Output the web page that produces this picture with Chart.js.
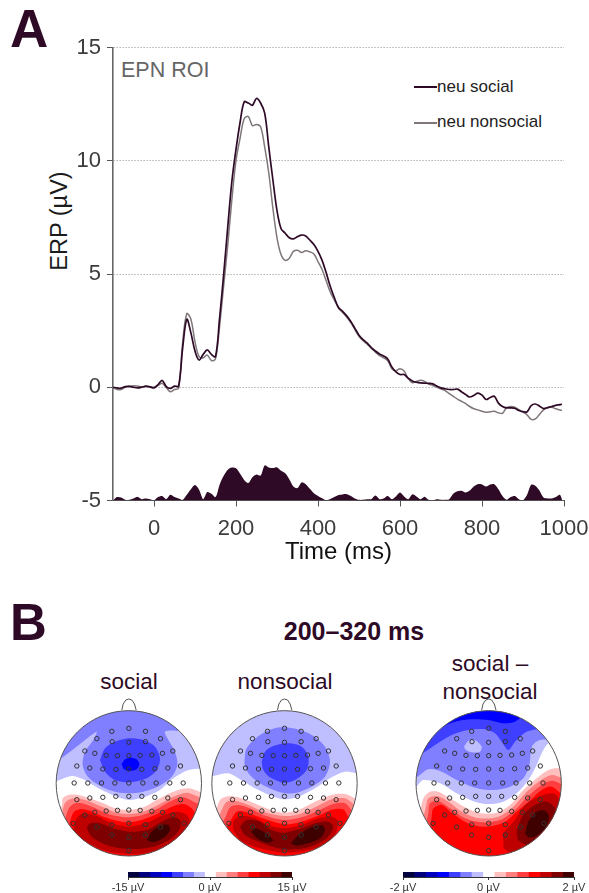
<!DOCTYPE html>
<html>
<head>
<meta charset="utf-8">
<script src="https://cdn.jsdelivr.net/npm/chart.js@4"></script>
<style>
  html, body { margin: 0; padding: 0; background: #fff; }
  body { width: 589px; height: 893px; position: relative; overflow: hidden; font-family: "Liberation Sans", Arial, sans-serif; }
  canvas { position: absolute; }
  .txt { position: absolute; white-space: nowrap; line-height: 1; color: #2e0a26; }
  .mid { transform: translate(-50%, -50%); }
  .key { position: absolute; height: 2px; width: 23px; left: 414px; }
</style>
</head>
<body>

<div class="txt" style="left:10px;top:2px;font-size:53px;font-weight:bold">A</div>
<div class="txt" style="left:10px;top:597px;font-size:51px;font-weight:bold">B</div>
<div class="txt" style="left:121px;top:60px;font-size:21.5px;color:#666">EPN ROI</div>
<div class="txt mid" style="left:60px;top:221px;font-size:23.5px;color:#1c1c1c;transform:translate(-50%,-50%) rotate(-90deg)">ERP (µV)</div>
<div class="txt" id="lab0" style="left:437px;top:78px;font-size:17px;color:#222"></div>
<div class="txt" id="lab1" style="left:437px;top:113px;font-size:17px;color:#222"></div>
<div class="key" id="key0" style="top:86px"></div>
<div class="key" id="key1" style="top:122px"></div>
<div class="txt mid" style="left:354px;top:631px;font-size:25px;font-weight:bold">200–320 ms</div>
<div class="txt mid" style="left:129px;top:682px;font-size:22.5px">social</div>
<div class="txt mid" style="left:285px;top:682px;font-size:22.5px">nonsocial</div>
<div class="txt mid" style="left:490px;top:664px;font-size:22.5px">social –</div>
<div class="txt mid" style="left:490px;top:692px;font-size:22.5px">nonsocial</div>

<canvas id="erp" width="589" height="590" style="left:0;top:0"></canvas>
<canvas id="headA" width="170" height="170" style="left:40px;top:690px"></canvas>
<canvas id="headB" width="170" height="170" style="left:205px;top:690px"></canvas>
<canvas id="headC" width="180" height="170" style="left:400px;top:690px"></canvas>
<canvas id="barA" width="240" height="27" style="left:90px;top:866px"></canvas>
<canvas id="barB" width="219" height="27" style="left:370px;top:866px"></canvas>

<script>
// ---- panel A data
var timeMs = [-100,-90,-80,-70,-60,-50,-40,-30,-20,-10,0,10,20,30,40,50,60,70,80,90,
  100,110,120,130,140,150,160,170,180,190,200,210,220,230,240,250,260,270,280,290,
  300,310,320,330,340,350,360,370,380,390,400,410,420,430,440,450,460,470,480,490,
  500,510,520,530,540,550,560,570,580,590,600,610,620,630,640,650,660,670,680,690,
  700,710,720,730,740,750,760,770,780,790,800,810,820,830,840,850,860,870,880,890,
  900,910,920,930,940,950,960,970,980,990,995];

var neuSocial = [0,-.03,-.04,.03,.04,0,-.03,0,.05,.02,-.03,.12,.3,.03,-.05,.05,.05,1.75,3,2.4,
  1.6,1.2,1.45,1.65,1.45,1.35,3.05,5,7.1,9.1,10.5,11.7,12.6,12.55,12.45,12.75,12.55,12.1,10.6,9.15,
  7.8,7,6.8,6.6,6.55,6.65,6.72,6.68,6.5,6.3,6,5.6,5.05,4.45,3.95,3.52,3.35,3.15,2.9,2.6,
  2.3,2.1,1.95,1.75,1.6,1.47,1.38,1.25,.9,.68,.56,.56,.4,.28,.22,.19,.18,.17,.15,.05,
  -.03,-.07,-.1,-.1,-.08,-.2,-.32,-.43,-.36,-.26,-.35,-.54,-.45,-.4,-.7,-.85,-.91,-.91,-.93,-1.03,
  -1.08,-1.08,-.81,-.74,-.83,-.94,-.9,-.85,-.8,-.77,-.75];

var neuNonsocial = [-.02,-.1,-.1,0,.04,.07,.05,.02,.03,.02,0,.08,.18,-.02,-.2,-.1,-.05,2,3.25,3,
  2,1.35,1.3,1.42,1.18,1.25,2.7,4.5,6.3,8.3,10,11,11.85,11.95,11.55,11.6,11.5,10.6,9.45,7.9,
  6.6,5.85,5.6,5.7,6,6.05,5.95,6.03,5.98,5.88,5.55,5.2,4.7,4.2,3.85,3.5,3.3,3.1,2.85,2.55,
  2.25,2.05,1.9,1.72,1.55,1.4,1.3,1.18,.82,.73,.82,.72,.38,.2,.25,.31,.26,.14,.08,0,
  -.08,-.15,-.28,-.4,-.52,-.62,-.72,-.85,-.95,-1,-1.06,-1.1,-1.08,-1.06,-1.13,-1.15,-.9,-.85,-.88,-.99,
  -1.1,-1.22,-1.42,-1.4,-1.2,-1,-.9,-.88,-.95,-1,-1.02];

// filled band along the bottom of the plot
var diffBand = [-5,-4.85,-4.87,-4.97,-4.97,-4.91,-4.84,-4.94,-4.91,-4.94,-5,-4.85,-4.8,-4.94,-4.75,-4.85,-4.91,-4.97,-4.75,-4.5,
  -4.32,-4.53,-4.94,-4.63,-4.7,-4.85,-4.3,-3.91,-3.64,-3.54,-3.58,-3.82,-4.09,-4.23,-3.97,-3.85,-3.9,-3.45,-3.54,-3.57,
  -3.54,-3.69,-3.8,-4.06,-4.38,-4.45,-4.2,-4.28,-4.48,-4.68,-4.8,-4.9,-4.99,-4.93,-4.85,-4.76,-4.73,-4.72,-4.8,-4.91,
  -4.97,-4.97,-4.94,-4.94,-4.78,-4.94,-4.91,-4.8,-4.94,-4.82,-4.65,-4.82,-4.94,-4.73,-4.82,-4.94,-4.83,-4.97,-4.99,-4.94,
  -4.97,-4.97,-4.94,-4.7,-4.59,-4.57,-4.65,-4.56,-4.38,-4.28,-4.29,-4.38,-4.29,-4.28,-4.5,-4.8,-4.97,-4.85,-4.8,-4.94,
  -4.99,-4.75,-4.31,-4.35,-4.56,-4.87,-4.91,-4.91,-4.85,-4.75,-4.95];

var xTicks = [0, 200, 400, 600, 800, 1000];
var seriesNames = ['neu social', 'neu nonsocial'];
var seriesColors = ['#2e0a26', '#7f7779'];

// ---- panel B data, all head maps use a plane where the head radius is 218 units
// electrodes, relative to the head centre
var elecX = [-51,0,50,-96,-50,0,50,95,-132,-102,-68,-34,0,34,69,101,132,-156,-117,-78,-39,0,39,78,117,155,
  -164,-123,-82,-42,0,42,82,123,163,-156,-117,-78,-39,0,39,78,117,155,-132,-102,-68,-34,0,34,69,101,132,
  -167,-96,-51,0,50,95,166,-51,0,50,0];
var elecY = [156,165,156,134,125,123,125,134,97,90,84,83,83,84,85,90,97,52,46,43,42,43,42,44,46,52,
  1,1,1,1,1,1,1,1,1,-49,-44,-42,-39,-39,-39,-42,-44,-49,-95,-87,-83,-81,-80,-81,-84,-87,-95,
  -120,-131,-124,-120,-124,-131,-120,-155,-162,-155,-202];
var noseX = [-21,-17,-9,0,9,17,22];
var noseY = [220,238,250,253,250,238,220];

var scaleLabelsA = [-15, 0, 15];
var scaleLabelsB = [-2, 0, 2];
var bandColors = ['#00003f','#00007f','#0000bf','#0000ff','#3f3fff','#7f7fff','#bfbfff','#ffffff',
  '#ffbfbf','#ff7f7f','#ff3f3f','#ff0000','#bf0000','#7f0000','#3f0000'];

// contour regions: [band index, x,y, x,y ...] in crop units of each head
var socialBands = [
  [6, 30,272, 52,272, 95,258, 130,268, 175,295, 225,318, 267,330, 310,322, 360,300, 400,265, 445,240, 482,236, 510,238, 510,30, 30,30],
  [5, 30,215, 58,208, 100,178, 135,150, 170,125, 160,150, 135,185, 128,225, 145,262, 185,290, 225,305, 267,310, 310,305, 350,292, 395,260, 412,225, 405,185, 385,150, 375,125, 410,122, 445,130, 510,170, 510,30, 30,30],
  [4, 180,210, 195,175, 225,155, 267,145, 310,150, 345,170, 360,205, 350,240, 320,265, 270,277, 225,270, 195,245],
  [3, 245,222, 255,208, 272,203, 290,208, 298,222, 290,238, 270,243, 252,238],
  [8, 30,520, 50,400, 66,345, 68,325, 85,315, 115,315, 150,325, 190,340, 225,355, 267,360, 310,352, 350,330, 400,305, 445,295, 478,305, 510,320, 510,520],
  [9, 30,520, 62,400, 72,345, 85,330, 110,325, 150,335, 190,352, 225,367, 267,372, 310,365, 350,347, 400,320, 440,308, 470,318, 510,340, 510,520],
  [10, 30,520, 72,400, 85,358, 100,342, 125,340, 160,352, 195,368, 230,378, 267,382, 305,376, 345,360, 395,332, 430,322, 460,335, 510,360, 510,520],
  [11, 30,520, 85,410, 100,368, 120,358, 150,362, 190,380, 230,392, 267,397, 305,390, 350,373, 395,350, 430,342, 455,355, 470,375, 510,400, 510,520],
  [12, 100,420, 110,385, 130,370, 170,378, 215,400, 267,410, 320,398, 370,375, 410,365, 440,375, 450,400, 430,440, 380,470, 320,488, 267,492, 190,480, 130,450],
  [13, 140,415, 150,400, 180,400, 220,415, 267,425, 320,420, 365,395, 400,382, 420,390, 420,415, 395,445, 340,470, 267,477, 200,465, 155,440],
  [14, 320,450, 335,425, 365,405, 385,405, 390,420, 375,440, 340,457]
];
var nonsocialBands = [
  [6, 0,262, 25,258, 70,250, 100,265, 150,295, 200,318, 238,328, 280,320, 330,295, 380,262, 420,245, 455,250, 480,255, 480,30, 0,30],
  [5, 118,220, 125,175, 165,135, 215,113, 265,115, 320,135, 360,170, 375,215, 360,260, 320,290, 265,310, 220,305, 165,280, 130,250],
  [4, 170,215, 180,185, 205,168, 250,160, 290,170, 310,200, 305,240, 270,270, 235,278, 195,262, 175,240],
  [8, 0,520, 25,400, 40,340, 50,325, 75,318, 110,325, 160,345, 205,362, 238,368, 280,360, 330,335, 380,315, 420,312, 450,325, 480,340, 480,520],
  [9, 0,520, 35,400, 50,360, 65,335, 90,332, 130,345, 175,365, 238,378, 285,372, 330,352, 380,328, 420,325, 450,345, 480,360, 480,520],
  [10, 0,520, 45,410, 62,380, 75,352, 100,345, 135,355, 175,375, 238,390, 290,382, 340,362, 385,342, 420,340, 440,360, 480,390, 480,520],
  [11, 0,520, 55,430, 75,395, 95,365, 120,365, 165,382, 238,403, 290,395, 345,375, 385,358, 415,358, 430,380, 480,410, 480,520],
  [12, 85,420, 85,395, 105,378, 150,385, 190,405, 238,415, 290,405, 340,385, 380,380, 400,395, 385,440, 330,475, 238,488, 150,470, 105,450],
  [13, 105,410, 125,390, 165,395, 200,420, 238,428, 290,415, 335,398, 370,395, 385,410, 365,445, 310,472, 238,478, 160,455, 120,435],
  [14, 138,425, 150,415, 175,425, 205,450, 190,458, 160,448],
  [14, 257,460, 280,435, 320,412, 350,405, 360,420, 345,445, 310,460, 275,467]
];
var differenceBands = [
  [6, 30,290, 48,290, 70,270, 120,280, 170,310, 225,335, 267,342, 310,335, 350,310, 385,270, 410,225, 425,190, 440,165, 460,150, 510,120, 510,30, 30,30],
  [5, 30,265, 50,262, 85,238, 125,245, 170,270, 225,293, 280,300, 330,290, 370,265, 388,225, 392,190, 398,165, 420,150, 470,150, 510,150, 510,30, 30,30],
  [6, 192,170, 205,152, 225,150, 245,170, 240,185, 215,187, 198,180],
  [4, 30,210, 60,195, 105,165, 155,135, 205,120, 255,118, 285,130, 305,155, 325,180, 345,155, 375,128, 410,118, 510,115, 510,30, 30,30],
  [3, 30,170, 85,145, 120,115, 165,95, 215,88, 265,90, 310,100, 340,97, 365,80, 382,60, 400,30, 30,30],
  [8, 30,520, 55,400, 70,325, 90,305, 115,305, 150,325, 195,352, 240,370, 290,368, 330,345, 370,300, 410,265, 445,240, 475,235, 510,240, 510,520],
  [9, 30,520, 65,400, 78,350, 85,325, 110,318, 145,335, 190,368, 240,385, 295,380, 340,350, 380,305, 420,272, 455,255, 482,262, 510,270, 510,520],
  [10, 30,520, 75,410, 85,370, 90,340, 115,333, 150,355, 195,385, 245,397, 300,390, 345,360, 385,318, 425,285, 455,272, 490,285, 510,300, 510,520],
  [11, 30,520, 88,420, 95,380, 100,355, 125,345, 155,368, 200,398, 250,410, 310,398, 350,365, 390,332, 425,300, 455,290, 482,310, 510,330, 510,520],
  [12, 310,455, 310,430, 345,390, 375,345, 420,318, 460,310, 478,330, 475,400, 420,460, 340,490, 312,475],
  [13, 350,420, 370,375, 405,345, 440,335, 465,355, 465,400, 430,440, 385,465, 355,450],
  [14, 375,430, 385,395, 410,365, 435,362, 447,380, 435,415, 405,440, 385,442]
];

// legend next to the curves
seriesNames.forEach(function (n, i) {
  document.getElementById('lab' + i).textContent = n;
  document.getElementById('key' + i).style.background = seriesColors[i];
});

function toPoints(ys) {
  return timeMs.map(function (t, i) { return { x: t, y: ys[i] }; });
}

// ---- ERP curves
new Chart(document.getElementById('erp'), {
  type: 'line',
  data: {
    datasets: [
      { label: seriesNames[0], data: toPoints(neuSocial), borderColor: seriesColors[0], borderWidth: 1.7, pointRadius: 0, tension: 0.35 },
      { label: seriesNames[1], data: toPoints(neuNonsocial), borderColor: seriesColors[1], borderWidth: 1.5, pointRadius: 0, tension: 0.35 },
      { label: 'difference', data: toPoints(diffBand), borderWidth: 0, backgroundColor: seriesColors[0], fill: { value: -5 }, pointRadius: 0, tension: 0.3 }
    ]
  },
  options: {
    responsive: false,
    animation: false,
    layout: { autoPadding: false, padding: { top: 47.5, right: 25, left: 0, bottom: 23.5 } },
    plugins: { legend: { display: false }, tooltip: { enabled: false } },
    scales: {
      x: {
        type: 'linear', min: -100, max: 1000,
        afterBuildTicks: function (s) { s.ticks = xTicks.map(function (v) { return { value: v }; }); },
        afterFit: function (s) { s.height = 66; s.paddingLeft = 0; s.paddingRight = 0; },
        grid: { drawOnChartArea: false, tickLength: 6, tickColor: '#555' },
        border: { color: '#555', width: 1 },
        ticks: { font: { size: 22 }, color: '#3c3c3c', padding: 9, maxRotation: 0, autoSkip: false, callback: function (v) { return String(v); } },
        title: { display: true, text: 'Time (ms)', font: { size: 24 }, color: '#111', padding: { top: 0, bottom: 0 } }
      },
      y: {
        min: -5, max: 15,
        afterFit: function (s) { s.width = 113; },
        grid: { color: '#8c8c8c', tickColor: '#555', tickLength: 6, tickBorderDash: [] },
        border: { color: '#666', width: 1.6, dash: [1, 2] },
        ticks: { stepSize: 5, font: { size: 22 }, color: '#3c3c3c', padding: 6 }
      }
    }
  }
});

// ---- head maps
var headPlugin = {
  id: 'headShape',
  beforeDatasetsDraw: function (chart, args, opts) {
    var c = chart.ctx, sx = chart.scales.x, sy = chart.scales.y;
    c.save();
    c.beginPath();
    c.arc(sx.getPixelForValue(opts.cx), sy.getPixelForValue(280), sx.getPixelForValue(opts.cx + 218) - sx.getPixelForValue(opts.cx), 0, Math.PI * 2);
    c.clip();
  },
  afterDatasetsDraw: function (chart, args, opts) {
    var c = chart.ctx, sx = chart.scales.x, sy = chart.scales.y;
    c.restore();
    c.strokeStyle = '#555';
    c.lineWidth = 1;
    c.beginPath();
    c.arc(sx.getPixelForValue(opts.cx), sy.getPixelForValue(280), sx.getPixelForValue(opts.cx + 218) - sx.getPixelForValue(opts.cx), 0, Math.PI * 2);
    c.stroke();
    c.beginPath();
    noseX.forEach(function (nx, i) {
      var px = sx.getPixelForValue(opts.cx + nx), py = sy.getPixelForValue(280 - noseY[i]);
      if (i === 0) c.moveTo(px, py); else c.lineTo(px, py);
    });
    c.stroke();
  }
};

function drawHead(id, bands, cx, xMax) {
  var sets = bands.map(function (b, i) {
    var pts = [];
    for (var k = 1; k < b.length; k += 2) pts.push({ x: b[k], y: b[k + 1] });
    pts.push(pts[0]);
    return { data: pts, showLine: true, fill: 'shape', backgroundColor: bandColors[b[0]], borderWidth: 0, pointRadius: 0, tension: 0.3, order: bands.length - i };
  });
  sets.push({
    data: elecX.map(function (ex, i) { return { x: cx + ex, y: 280 - elecY[i] }; }),
    pointRadius: 2.2, borderWidth: 1, pointBorderColor: '#333', pointBackgroundColor: 'rgba(0,0,0,0)', order: -1
  });
  new Chart(document.getElementById(id), {
    type: 'scatter',
    data: { datasets: sets },
    options: {
      responsive: false,
      animation: false,
      layout: { autoPadding: false },
      plugins: { legend: { display: false }, tooltip: { enabled: false }, headShape: { cx: cx } },
      scales: {
        x: { type: 'linear', display: false, min: 0, max: xMax },
        y: { type: 'linear', display: false, min: 0, max: 510, reverse: true }
      }
    },
    plugins: [headPlugin]
  });
}
drawHead('headA', socialBands, 266.5, 510);
drawHead('headB', nonsocialBands, 238.5, 510);
drawHead('headC', differenceBands, 266, 540);

// ---- colour scales
function drawScale(id, labels, padL, padR) {
  var lo = labels[0], hi = labels[2], step = (hi - lo) / bandColors.length;
  var sets = bandColors.map(function (col, i) {
    return { data: [[lo + i * step, lo + (i + 1) * step]], backgroundColor: col, borderWidth: 0, barPercentage: 1, categoryPercentage: 1, grouped: false };
  });
  new Chart(document.getElementById(id), {
    type: 'bar',
    data: { labels: [''], datasets: sets },
    options: {
      indexAxis: 'y',
      responsive: false,
      animation: false,
      layout: { autoPadding: false, padding: { left: padL, right: padR, top: 6, bottom: 0 } },
      plugins: { legend: { display: false }, tooltip: { enabled: false } },
      scales: {
        y: { display: false },
        x: {
          type: 'linear', min: lo, max: hi,
          afterBuildTicks: function (s) { s.ticks = labels.map(function (v) { return { value: v }; }); },
          afterFit: function (s) { s.height = 16; s.paddingLeft = 0; s.paddingRight = 0; },
          grid: { drawOnChartArea: false, tickLength: 3, tickColor: '#333' },
          border: { color: '#333', width: 1 },
          ticks: { font: { size: 11 }, color: '#333', padding: 1, maxRotation: 0, autoSkip: false, callback: function (v) { return v + ' µV'; } }
        }
      }
    }
  });
}
drawScale('barA', scaleLabelsA, 38, 38);
drawScale('barB', scaleLabelsB, 33, 15);
</script>
</body>
</html>
